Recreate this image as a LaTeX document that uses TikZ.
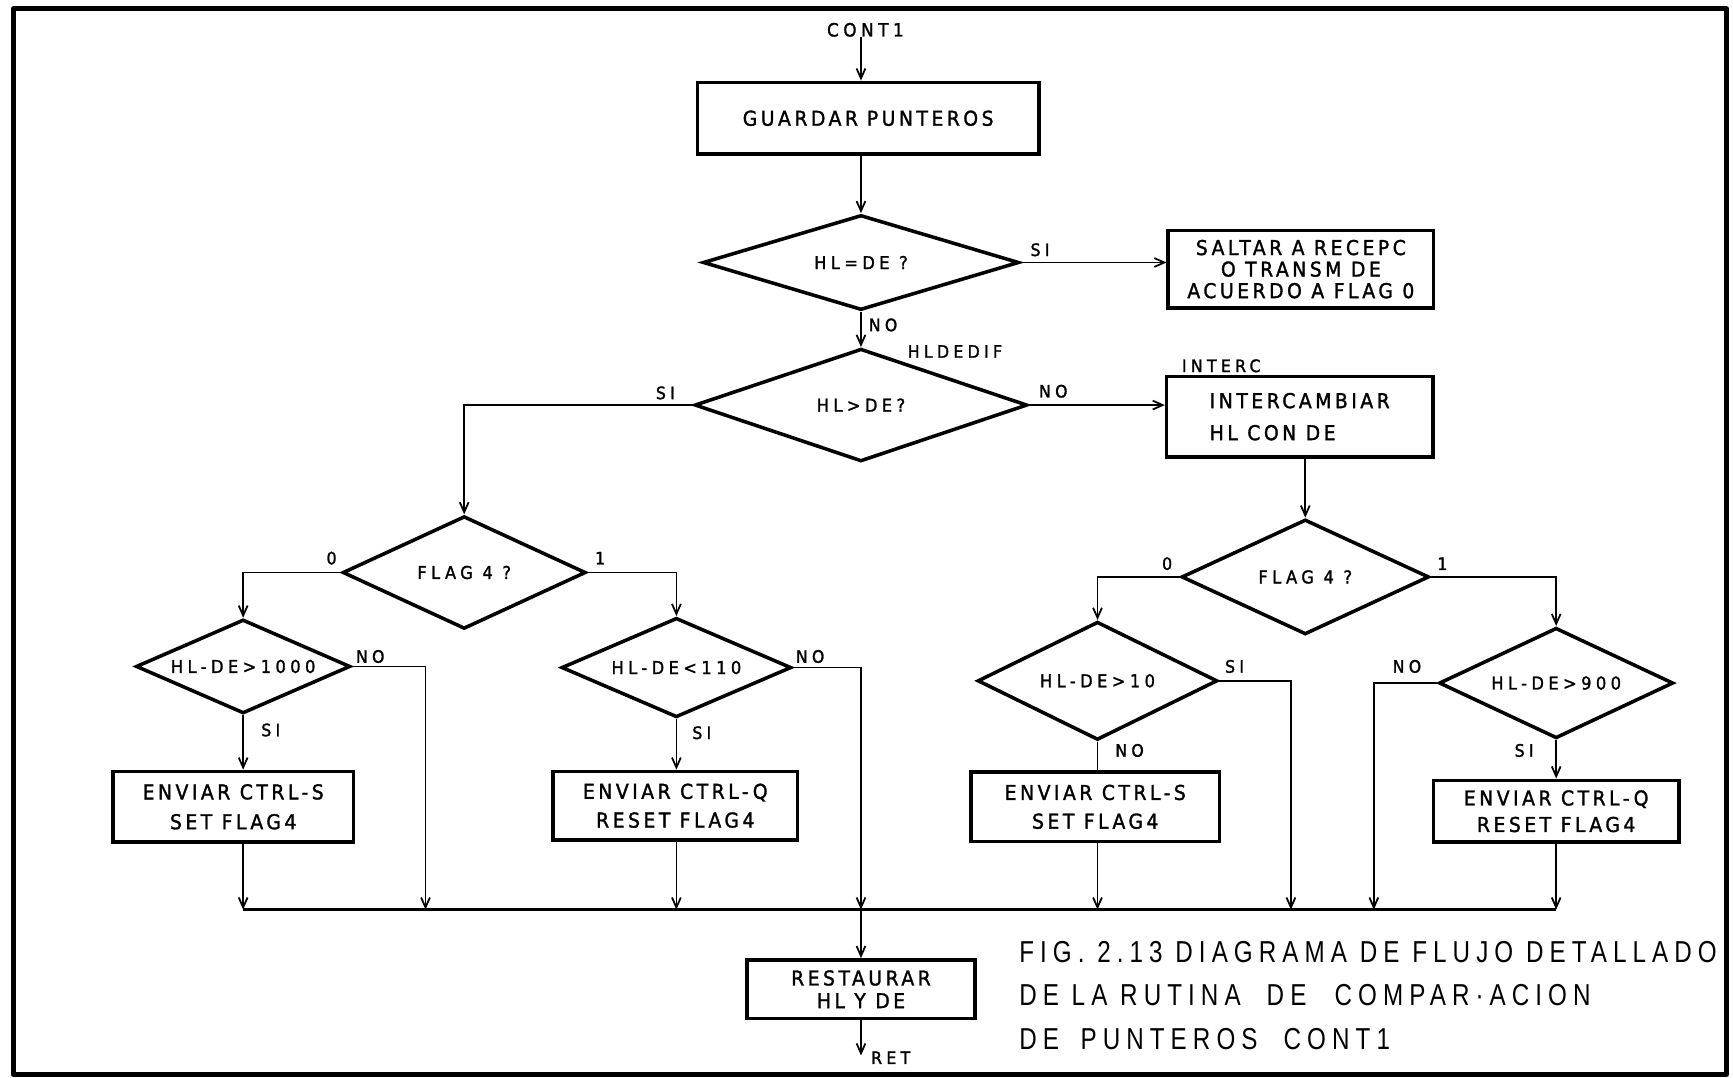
\documentclass[tikz,border=0pt]{standalone}
\usepackage{fontspec}
\setmainfont{DejaVu Sans}
\newfontfamily\procfont[FakeStretch=0.92,LetterSpace=17,FakeBold=1.5]{DejaVu Sans}
\newfontfamily\testfont[FakeStretch=0.92,LetterSpace=25,FakeBold=1.5]{DejaVu Sans}
\newfontfamily\capfont[FakeStretch=0.8,LetterSpace=20]{Liberation Sans}
\usetikzlibrary{shapes.geometric,arrows.meta}
% box lettering with a chosen line pitch
\newcommand{\procsize}[1]{\procfont\fontsize{18.5}{#1}\selectfont}

\begin{document}
\begin{tikzpicture}[x=1pt,y=-1pt,
  every node/.style={inner sep=0pt},
  proc/.style={draw, line width=3.2pt, align=center},
  test/.style={draw, diamond, aspect=3, line width=3.2pt,
    font=\testfont\fontsize{16}{18}\selectfont},
  lbl/.style={font=\testfont\fontsize{15.5}{18}\selectfont},
  flow/.style={line width=1.6pt},
  arr/.style={flow, -{Straight Barb[length=9pt,width=8pt]}},
  capline/.style={anchor=west, font=\capfont\fontsize{27.4}{30}\selectfont}]

\useasboundingbox (0,0) rectangle (1568,975);
% sheet frame
\draw[line width=4.5pt, line join=round] (12,8) rectangle (1562,972);

% ---- upper part
\node[lbl, font=\testfont\fontsize{16.5}{18}\selectfont] (cont) at (783,27) {CONT1};
\node[proc, minimum width=309pt, minimum height=65pt, font=\procsize{20}] (b1) at (785.5,107)
  {GUARDAR\hspace{8pt}PUNTEROS};
\node[test, minimum width=286pt, minimum height=86pt] (d1) at (779,237.5) {HL=DE ?};
\node[proc, minimum width=240pt, minimum height=70pt, font=\procsize{19.5}] (b2) at (1177,243.5)
  {SALTAR A RECEPC\\O TRANSM DE\\ACUERDO A FLAG 0};
\node[test, minimum width=301pt, minimum height=102pt] (d2) at (779,366.5) {HL>DE?};
\node[proc, minimum width=241pt, minimum height=73pt, align=left, font=\procsize{29}] (b3) at (1176,377)
  {INTERCAMBIAR\\HL CON DE};

% ---- two FLAG 4 tests
\node[test, minimum width=220pt, minimum height=102pt] (fl) at (420,518) {FLAG 4 ?};
\node[test, minimum width=224pt, minimum height=104pt] (fr) at (1181,522) {FLAG 4 ?};

% ---- range tests
\node[test, minimum width=194pt, minimum height=85pt] (c1) at (220,603) {HL-DE>1000};
\node[test, minimum width=208pt, minimum height=90pt] (c2) at (612,604) {HL-DE<110};
\node[test, minimum width=217pt, minimum height=107pt] (c3) at (993,616) {HL-DE>10};
\node[test, minimum width=212pt, minimum height=100pt] (c4) at (1408,618) {HL-DE>900};

% ---- actions
\node[proc, minimum width=218pt, minimum height=64pt, font=\procsize{27}] (b4) at (211,730)
  {ENVIAR CTRL-S\\SET FLAG4};
\node[proc, minimum width=221pt, minimum height=62pt, font=\procsize{26}] (b5) at (611,729)
  {ENVIAR CTRL-Q\\RESET FLAG4};
\node[proc, minimum width=225pt, minimum height=63pt, font=\procsize{26}] (b6) at (991,730)
  {ENVIAR CTRL-S\\SET FLAG4};
\node[proc, minimum width=222pt, minimum height=56pt, font=\procsize{24}] (b7) at (1408,734)
  {ENVIAR CTRL-Q\\RESET FLAG4};
\node[proc, minimum width=206pt, minimum height=53pt, font=\procsize{20.5}] (b8) at (779,895)
  {RESTAURAR\\HL Y DE};

% ---- collecting line
\coordinate (busy) at (0,823);
\coordinate (j1) at (c1.south |- busy);
\coordinate (j2) at (385,823);
\coordinate (j3) at (c2.south |- busy);
\coordinate (j4) at (d1.south |- busy);
\coordinate (j5) at (c3.south |- busy);
\coordinate (j6) at (1168,823);
\coordinate (j7) at (1243,823);
\coordinate (j8) at (c4.south |- busy);
\coordinate (ret) at (779,955);

% ---- connectors
\draw[arr] (cont.south -| d1.north) -- (d1.north |- b1.north);
\draw[arr] (b1.south -| d1.north) -- (d1.north);
\draw[arr] (d1.east) -- (d1.east -| b2.west);
\draw[arr] (d1.south) -- (d2.north);
\draw[arr] (d2.east) -- (d2.east -| b3.west);
\draw[arr] (d2.west) -| (fl.north);
\draw[arr] (b3.south -| fr.north) -- (fr.north);
\draw[arr] (fl.west) -| (c1.north);
\draw[arr] (fl.east) -| (c2.north);
\draw[arr] (fr.west) -| (c3.north);
\draw[arr] (fr.east) -| (c4.north);
\draw[arr] (c1.south) -- (c1.south |- b4.north);
\draw[arr] (c2.south) -- (c2.south |- b5.north);
\draw[flow] (c3.south) -- (c3.south |- b6.north);
\draw[arr] (c4.south) -- (c4.south |- b7.north);
\draw[arr] (c1.east) -| (j2);
\draw[arr] (c2.east) -| (j4);
\draw[arr] (c3.east) -| (j6);
\draw[arr] (c4.west) -| (j7);
\draw[arr] (b4.south -| j1) -- (j1);
\draw[arr] (b5.south -| j3) -- (j3);
\draw[arr] (b6.south -| j5) -- (j5);
\draw[arr] (b7.south -| j8) -- (j8);
\draw[line width=2.2pt] (j1) -- (j8);
\draw[arr] (j4) -- (j4 |- b8.north);
\draw[arr] (b8.south -| j4) -- (ret);

% ---- branch labels
\node[lbl] (l1) at (941,226) {SI};
\node[lbl] (l2) at (799,294) {NO};
\node[lbl] (l3) at (864,318) {HLDEDIF};
\node[lbl] (l4) at (602,355.5) {SI};
\node[lbl] (l5) at (953,354) {NO};
\node[lbl] (l6) at (1105,331) {INTERC};
\node[lbl] (l7) at (300,505) {0};
\node[lbl] (l8) at (543,505) {1};
\node[lbl] (l9) at (1056,510) {0};
\node[lbl] (l10) at (1305,510) {1};
\node[lbl] (l11) at (335,594) {NO};
\node[lbl] (l12) at (245,660.5) {SI};
\node[lbl] (l13) at (733,594) {NO};
\node[lbl] (l14) at (635,663) {SI};
\node[lbl] (l15) at (1117,603) {SI};
\node[lbl] (l16) at (1022,679) {NO};
\node[lbl] (l17) at (1273,603) {NO};
\node[lbl] (l18) at (1379,679) {SI};
\node[lbl, anchor=west] (l19) at (788,957) {RET};

% ---- figure caption
\node[capline] (cap1) at (922,861) {FIG. 2.13 DIAGRAMA DE FLUJO DETALLADO};
\node[capline] (cap2) at (922,900.5) {DE LA RUTINA\hspace{12pt} DE\hspace{14pt} COMPAR·ACION};
\node[capline] (cap3) at (922,940) {DE\hspace{8pt} PUNTEROS\hspace{12pt} CONT1};
\end{tikzpicture}
\end{document}
